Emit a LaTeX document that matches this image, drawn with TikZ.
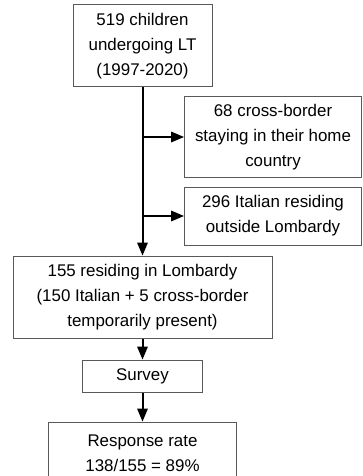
\documentclass[tikz,border=0pt]{standalone}
\usepackage{fontspec}
\setmainfont{Liberation Sans}
\usetikzlibrary{arrows,positioning}

\begin{document}
\begin{tikzpicture}[node distance=10pt, auto]
    \tikzset{
      rectnode/.style={rectangle,draw=black!65,line width=1pt,inner sep=0pt,align=center,font=\fontsize{16.9}{25}\selectfont},
      arrow/.style={->,>=triangle 45,line width=2pt}
    }
    \useasboundingbox (0,0) rectangle (362pt,-476pt);
    \node[rectnode,minimum width=139pt,minimum height=82pt](total) at (142.5pt,-46pt){519 children\\undergoing LT\\(1997-2020)};
    \node[rectnode,minimum width=177pt,minimum height=80pt,below right=9pt and 41.5pt of total.south](home){68 cross-border\\staying in their home\\country};
    \node[rectnode,minimum width=177pt,minimum height=58pt,below=9pt of home](outside){296 Italian residing\\outside Lombardy};
    \node[rectnode,minimum width=259pt,minimum height=82pt,below=168pt of total](lombardy){155 residing in Lombardy\\(150 Italian + 5 cross-border\\temporarily present)};
    \node[rectnode,minimum width=120pt,minimum height=32pt,below=21pt of lombardy](survey){Survey};
    \node[rectnode,minimum width=188pt,minimum height=62pt,below=29pt of survey](response){Response rate\\138/155 = 89\%};

    \draw[arrow](total.south) -- (lombardy.north);
    \draw[arrow](total.south |- home.west) -- (home.west);
    \draw[arrow](total.south |- outside.west) -- (outside.west);
    \draw[arrow](lombardy.south) -- (survey.north);
    \draw[arrow](survey.south) -- (response.north);

  \end{tikzpicture}
\end{document}
